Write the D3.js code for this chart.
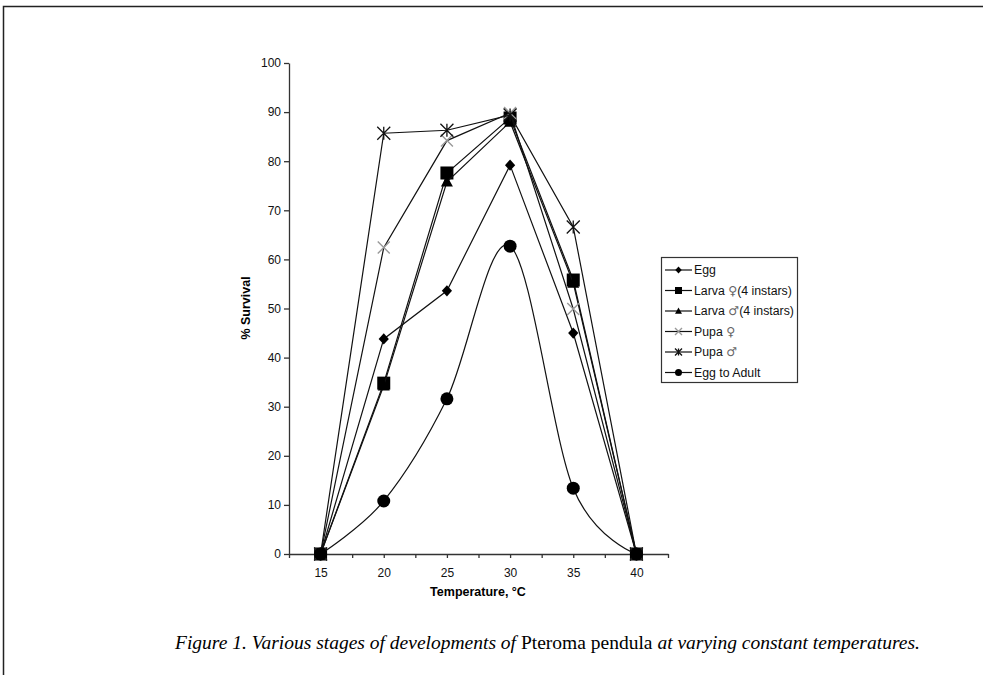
<!DOCTYPE html>
<html>
<head>
<meta charset="utf-8">
<script src="https://cdn.jsdelivr.net/npm/d3@7"></script>
<style>
  body { margin: 0; background: #fff; }
  svg { display: block; }
</style>
</head>
<body>
<svg id="chart" width="983" height="675"></svg>
<script>
// temperatures (°C)
var temps = [15, 20, 25, 30, 35, 40];

// % survival per stage
var egg       = [0, 43.8, 53.6, 79.2, 45.0, 0];
var larvaF    = [0, 34.8, 77.6, 88.8, 55.8, 0];
var larvaM    = [0, 34.3, 75.8, 88.0, 55.2, 0];
var pupaF     = [0, 62.4, 84.2, 89.8, 49.9, 0];
var pupaM     = [0, 85.7, 86.3, 89.4, 66.6, 0];
var eggAdult  = [0, 10.8, 31.6, 62.7, 13.4, 0];

var seriesNames = ["Egg", "Larva \u2640(4 instars)", "Larva \u2642(4 instars)", "Pupa \u2640", "Pupa \u2642", "Egg to Adult"];
var seriesMarks = ["diamond", "square", "triangle", "x", "star", "circle"];

var yTicks  = [0, 10, 20, 30, 40, 50, 60, 70, 80, 90, 100];
var xTicks  = [12.5, 15, 17.5, 20, 22.5, 25, 27.5, 30, 32.5, 35, 37.5, 40, 42.5];
var xLabels = [15, 20, 25, 30, 35, 40];

var allSeries = [egg, larvaF, larvaM, pupaF, pupaM, eggAdult];

var svg = d3.select("#chart");
var font = "'Liberation Sans', Arial, sans-serif";

// page frame (top and left rules)
svg.append("path")
    .attr("d", "M3.5,675 V6.5 H983")
    .attr("fill", "none")
    .attr("stroke", "#222")
    .attr("stroke-width", 1.5);

var x = d3.scaleLinear().domain([12.5, 42.5]).range([289, 668]);
var y = d3.scaleLinear().domain([0, 100]).range([554, 63]);

// y axis
var gy = svg.append("g")
    .attr("transform", "translate(289,0)")
    .call(d3.axisLeft(y).tickValues(yTicks).tickSize(5).tickPadding(3).tickSizeOuter(0));
gy.selectAll("text").attr("font-family", font).attr("font-size", 12).attr("fill", "#111");
gy.selectAll("line, path").attr("stroke", "#333").attr("stroke-width", 1.3);

// x axis
var gx = svg.append("g")
    .attr("transform", "translate(0,554)")
    .call(d3.axisBottom(x).tickValues(xTicks).tickSize(4).tickPadding(10).tickSizeOuter(0)
        .tickFormat(function (d) { return xLabels.indexOf(d) >= 0 ? d : ""; }));
gx.selectAll("text").attr("font-family", font).attr("font-size", 12).attr("fill", "#111");
gx.selectAll("line, path").attr("stroke", "#333").attr("stroke-width", 1.3);

// axis titles
svg.append("text")
    .attr("x", 478).attr("y", 595.5)
    .attr("text-anchor", "middle")
    .attr("font-family", font).attr("font-size", 12.5).attr("font-weight", "bold")
    .text("Temperature, \u00b0C");

svg.append("text")
    .attr("transform", "translate(249.5,308) rotate(-90)")
    .attr("text-anchor", "middle")
    .attr("font-family", font).attr("font-size", 12.5).attr("font-weight", "bold")
    .text("% Survival");

// marker drawing
function drawMarker(g, kind, cx, cy, s) {
    var h = s / 2;
    if (kind === "diamond") {
        g.append("path").attr("d", d3.symbol().type(d3.symbolDiamond2).size(s * s * 0.55)())
            .attr("transform", "translate(" + cx + "," + cy + ") scale(1,1.1)")
            .attr("fill", "#000");
    } else if (kind === "square") {
        g.append("rect").attr("x", cx - h).attr("y", cy - h).attr("width", s).attr("height", s).attr("fill", "#000");
    } else if (kind === "triangle") {
        g.append("path").attr("d", "M" + cx + "," + (cy - h) + "L" + (cx + h) + "," + (cy + h * 0.8) + "L" + (cx - h) + "," + (cy + h * 0.8) + "Z")
            .attr("fill", "#000");
    } else if (kind === "x") {
        g.append("path").attr("d", "M" + (cx - h) + "," + (cy - h) + "L" + (cx + h) + "," + (cy + h) + "M" + (cx + h) + "," + (cy - h) + "L" + (cx - h) + "," + (cy + h))
            .attr("stroke", "#999").attr("stroke-width", 1.4).attr("fill", "none");
    } else if (kind === "star") {
        g.append("path").attr("d", "M" + (cx - h) + "," + (cy - h) + "L" + (cx + h) + "," + (cy + h) + "M" + (cx + h) + "," + (cy - h) + "L" + (cx - h) + "," + (cy + h) + "M" + cx + "," + (cy - h) + "V" + (cy + h))
            .attr("stroke", "#111").attr("stroke-width", 1.3).attr("fill", "none");
    } else if (kind === "circle") {
        g.append("circle").attr("cx", cx).attr("cy", cy).attr("r", h).attr("fill", "#000");
    }
}

var markSize = { diamond: 11, square: 13, triangle: 12, x: 12, star: 13, circle: 13 };

var straight = d3.line()
    .x(function (d, i) { return x(temps[i]); })
    .y(function (d) { return y(d); });
var smooth = d3.line()
    .x(function (d, i) { return x(temps[i]); })
    .y(function (d) { return y(d); })
    .curve(d3.curveCatmullRom.alpha(0));

var plot = svg.append("g");
allSeries.forEach(function (vals, k) {
    var g = plot.append("g");
    g.append("path")
        .datum(vals)
        .attr("fill", "none")
        .attr("stroke", "#111")
        .attr("stroke-width", 1.2)
        .attr("d", k === 5 ? smooth : straight);
    vals.forEach(function (v, i) {
        drawMarker(g, seriesMarks[k], x(temps[i]), y(v), markSize[seriesMarks[k]]);
    });
});

// legend
var leg = svg.append("g");
leg.append("rect")
    .attr("x", 661.5).attr("y", 257.5).attr("width", 136).attr("height", 125)
    .attr("fill", "#fff").attr("stroke", "#333").attr("stroke-width", 1.2);
seriesNames.forEach(function (name, k) {
    var cy = 270 + k * 20.5;
    leg.append("line").attr("x1", 665).attr("x2", 692).attr("y1", cy).attr("y2", cy)
        .attr("stroke", "#111").attr("stroke-width", 1.2);
    drawMarker(leg, seriesMarks[k], 678.5, cy, 7);
    var t = leg.append("text")
        .attr("x", 694).attr("y", cy + 4.3)
        .attr("font-family", font).attr("font-size", 12.3).attr("fill", "#111");
    // sex symbols are not in Liberation Sans, so set them in DejaVu Sans
    name.split(/([\u2640\u2642])/).forEach(function (part) {
        if (!part) return;
        var sp = t.append("tspan").text(part);
        if (part === "\u2640" || part === "\u2642") {
            sp.attr("font-family", "'DejaVu Sans', sans-serif").attr("fill", "#666");
        }
    });
});

// caption
var cap = svg.append("text")
    .attr("x", 175).attr("y", 649)
    .attr("font-family", "'Liberation Serif', 'DejaVu Serif', serif")
    .attr("font-size", 17);
cap.append("tspan").attr("font-style", "italic").text("Figure 1. Various stages of developments of ");
cap.append("tspan").text("Pteroma pendula");
cap.append("tspan").attr("font-style", "italic").text(" at varying constant temperatures.");
var w = cap.node().getComputedTextLength();
cap.attr("font-size", 17 * 745 / w);
</script>
</body>
</html>
